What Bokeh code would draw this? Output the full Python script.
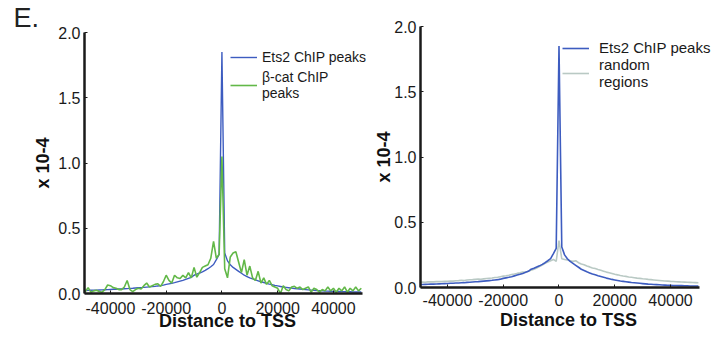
from bokeh.plotting import figure
from bokeh.layouts import row, column
from bokeh.models import (Range1d, FixedTicker, NumeralTickFormatter, Legend,
                          LegendItem, Title)
from bokeh.embed import file_html
from bokeh.resources import INLINE

# ---------------- data ----------------
distance = list(range(-50000, 50001, 1000))

ets2 = [
    0.022, 0.023, 0.024, 0.025, 0.026, 0.026, 0.027, 0.028, 0.029, 0.030,
    0.031, 0.032, 0.033, 0.034, 0.035, 0.036, 0.037, 0.039, 0.040, 0.042,
    0.044, 0.045, 0.047, 0.049, 0.051, 0.053, 0.055, 0.058, 0.060, 0.064,
    0.070, 0.074, 0.078, 0.083, 0.089, 0.095, 0.101, 0.108, 0.116, 0.124,
    0.140, 0.148, 0.157, 0.166, 0.177, 0.190, 0.205, 0.222, 0.260, 0.300,
    1.850,
    0.310, 0.250, 0.220, 0.200, 0.185, 0.170, 0.155, 0.140, 0.130, 0.120,
    0.112, 0.104, 0.097, 0.090, 0.084, 0.078, 0.072, 0.067, 0.062, 0.058,
    0.054, 0.050, 0.047, 0.044, 0.041, 0.038, 0.036, 0.034, 0.032, 0.030,
    0.028, 0.026, 0.025, 0.023, 0.022, 0.021, 0.019, 0.018, 0.017, 0.016,
    0.015, 0.015, 0.014, 0.014, 0.013, 0.013, 0.012, 0.012, 0.011, 0.011,
]

bcat = [
    0.020, 0.015, 0.045, 0.010, 0.020, 0.025, 0.015, 0.010, 0.030, 0.065,
    0.060, 0.045, 0.040, 0.030, 0.030, 0.050, 0.100, 0.030, 0.015, 0.030,
    0.040, 0.035, 0.060, 0.080, 0.050, 0.060, 0.070, 0.075, 0.055, 0.090,
    0.140, 0.100, 0.080, 0.140, 0.120, 0.115, 0.140, 0.120, 0.160, 0.120,
    0.200, 0.125, 0.160, 0.200, 0.210, 0.220, 0.270, 0.400, 0.270, 0.300,
    1.050,
    0.190, 0.120, 0.280, 0.310, 0.320, 0.240, 0.160, 0.260, 0.140, 0.210,
    0.120, 0.100, 0.170, 0.080, 0.120, 0.070, 0.100, 0.060, 0.050, 0.040,
    0.000, 0.060, 0.030, 0.020, 0.050, 0.055, 0.040, 0.050, 0.030, 0.040,
    0.050, 0.010, 0.040, 0.030, 0.010, 0.030, 0.020, 0.050, 0.020, 0.040,
    0.010, 0.040, 0.020, 0.050, 0.010, 0.040, 0.020, 0.050, 0.020, 0.040,
]

random_regions = [
    0.040, 0.041, 0.040, 0.043, 0.044, 0.043, 0.045, 0.046, 0.045, 0.047,
    0.048, 0.050, 0.049, 0.052, 0.053, 0.055, 0.054, 0.057, 0.059, 0.060,
    0.062, 0.064, 0.063, 0.066, 0.069, 0.071, 0.073, 0.076, 0.079, 0.083,
    0.087, 0.090, 0.094, 0.099, 0.103, 0.108, 0.112, 0.118, 0.116, 0.125,
    0.132, 0.140, 0.150, 0.160, 0.172, 0.185, 0.195, 0.205, 0.215, 0.200,
    0.360,
    0.220, 0.215, 0.210, 0.205, 0.200, 0.205, 0.190, 0.180, 0.175, 0.165,
    0.158, 0.150, 0.145, 0.138, 0.132, 0.125, 0.118, 0.113, 0.107, 0.101,
    0.097, 0.092, 0.088, 0.085, 0.081, 0.078, 0.075, 0.072, 0.070, 0.067,
    0.065, 0.062, 0.060, 0.058, 0.056, 0.054, 0.052, 0.050, 0.049, 0.047,
    0.046, 0.044, 0.043, 0.042, 0.041, 0.040, 0.039, 0.038, 0.037, 0.036,
]

x_ticks = [-40000, -20000, 0, 20000, 40000]
y_ticks = [0.0, 0.5, 1.0, 1.5, 2.0]

BLUE = "#3d5cc0"
GREEN = "#62b848"
GRAY = "#b9c9c4"
FONT = "Liberation Sans"


def make_fig(width, height, border_left, border_top, border_bottom, xr, xbounds,
             tick_standoff, title_standoff, ylabel_standoff):
    p = figure(width=width, height=height, output_backend="svg", toolbar_location=None,
               x_range=Range1d(*xr), y_range=Range1d(0, 2.0),
               min_border_left=border_left, min_border_right=0,
               min_border_top=border_top, min_border_bottom=border_bottom)
    p.outline_line_color = None
    p.xgrid.grid_line_color = None
    p.ygrid.grid_line_color = None
    p.background_fill_color = "white"
    p.border_fill_color = "white"
    p.xaxis.ticker = FixedTicker(ticks=x_ticks)
    p.yaxis.ticker = FixedTicker(ticks=y_ticks)
    p.xaxis.formatter = NumeralTickFormatter(format="0")
    p.yaxis.formatter = NumeralTickFormatter(format="0.0")
    p.xaxis.bounds = xbounds
    for ax in (p.xaxis, p.yaxis):
        ax.axis_line_color = "#1a1a1a"
        ax.axis_line_width = 2.5
        ax.major_tick_line_color = "#1a1a1a"
        ax.major_tick_in = 3
        ax.major_tick_out = 0
        ax.minor_tick_line_color = None
        ax.major_label_text_font = FONT
        ax.major_label_text_font_size = "16px"
        ax.major_label_text_color = "#1a1a1a"
        ax.axis_label_text_font = FONT
        ax.axis_label_text_font_style = "bold"
        ax.axis_label_text_color = "#111111"
    p.xaxis.major_label_standoff = tick_standoff
    p.yaxis.major_label_standoff = 4
    p.xaxis.axis_label = "Distance to TSS"
    p.xaxis.axis_label_text_font_size = "18px"
    p.xaxis.axis_label_standoff = title_standoff
    p.yaxis.axis_label = "x 10-4"
    p.yaxis.axis_label_text_font_size = "18px"
    p.yaxis.axis_label_standoff = ylabel_standoff
    return p


def add_legend(p, items, loc, font_size, standoff, spacing, line_height):
    leg = Legend(items=items, location=loc, padding=0, margin=0, spacing=spacing,
                 glyph_width=27, glyph_height=14, label_height=14,
                 label_standoff=standoff, border_line_alpha=0, background_fill_alpha=0,
                 label_text_font=FONT, label_text_font_size=font_size,
                 label_text_color="#1a1a1a", label_text_line_height=line_height)
    p.add_layout(leg, "center")


# ---------------- left panel ----------------
p1 = make_fig(370, 335, 84, 32, 42, (-49300, 53300), (-49300, 50400), 8, -6, 2)
r_e = p1.line(distance, ets2, line_color=BLUE, line_width=1.4)
r_b = p1.line(distance, bcat, line_color=GREEN, line_width=1.6)
add_legend(p1, [LegendItem(label="Ets2 ChIP peaks", renderers=[r_e]),
                LegendItem(label="β-cat ChIP\npeaks", renderers=[r_b])],
           (146, 192), "14px", 5, 4, 0.85)
p1.add_layout(Title(text="E.", align="left", offset=-71, standoff=0,
                    text_font=FONT, text_font_size="27px", text_font_style="normal",
                    text_color="#222222"), "above")

# ---------------- right panel ----------------
p2 = make_fig(346, 335, 50, 26, 48, (-49680, 56500), (-49680, 50400), 6, 1, -3)
r_r = p2.line(distance, random_regions, line_color=GRAY, line_width=1.6)
r_e2 = p2.line(distance, ets2, line_color=BLUE, line_width=1.6)
add_legend(p2, [LegendItem(label="Ets2 ChIP peaks", renderers=[r_e2]),
                LegendItem(label="random\nregions", renderers=[r_r])],
           (142, 197), "15px", 10, -2, 0.95)

layout = row(p1, column(p2), spacing=0)
open("out.html", "w").write(file_html(layout, INLINE))
